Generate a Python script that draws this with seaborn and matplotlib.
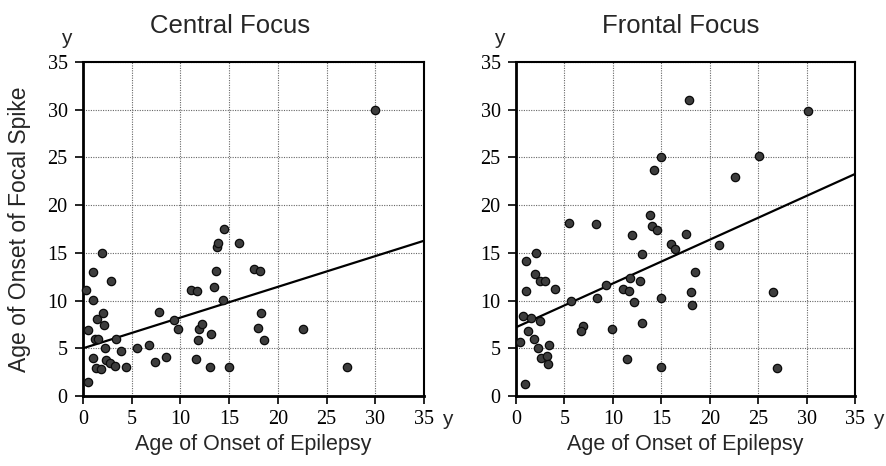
import numpy as np
import pandas as pd
import matplotlib
matplotlib.use("Agg")
import matplotlib.pyplot as plt
import seaborn as sns

# ---- data ----
central_x = [0.5, 1.3, 1.8, 1.0, 2.4, 2.8, 3.3, 4.4, 2.25, 3.9, 5.5, 6.8, 1.2, 1.5,
             3.4, 0.5, 2.2, 1.4, 2.0, 1.0, 0.3, 2.9, 1.0, 1.95, 7.4, 8.5, 7.8, 9.3,
             9.8, 11.6, 11.8, 11.9, 12.2, 13.1, 13.0, 15.0, 14.35, 11.1, 11.75, 13.4,
             13.7, 13.8, 13.9, 14.5, 16.0, 17.6, 18.2, 18.3, 18.0, 18.6, 22.6, 27.1, 30.0]
central_y = [1.5, 2.9, 2.8, 4.0, 3.8, 3.5, 3.1, 3.0, 5.0, 4.7, 5.0, 5.3, 6.0, 6.0,
             6.0, 6.9, 7.4, 8.1, 8.7, 10.1, 11.1, 12.0, 13.0, 15.0, 3.6, 4.1, 8.8, 8.0,
             7.0, 3.9, 5.9, 7.0, 7.5, 6.5, 3.0, 3.0, 10.1, 11.1, 11.0, 11.4,
             13.1, 15.6, 16.0, 17.5, 16.0, 13.3, 13.1, 8.7, 7.1, 5.9, 7.0, 3.0, 30.0]

frontal_x = [0.9, 0.45, 1.2, 1.9, 2.3, 3.4, 2.6, 3.2, 3.3, 0.7, 1.55, 2.5, 1.0, 1.0,
             2.1, 2.0, 2.5, 3.0, 4.0, 5.7, 5.5, 6.9, 6.7, 8.4, 8.3, 9.3, 9.9, 11.0,
             11.7, 11.8, 12.0, 12.2, 12.8, 11.5, 13.0, 13.0, 13.8, 14.0, 14.6, 14.3,
             15.0, 15.0, 15.0, 16.0, 16.4, 17.6, 17.9, 18.5, 18.1, 18.2, 21.0, 22.6,
             25.1, 26.5, 27.0, 30.1]
frontal_y = [1.3, 5.7, 6.8, 6.0, 5.0, 5.3, 4.0, 4.2, 3.4, 8.4, 8.2, 7.9, 11.0, 14.1,
             15.0, 12.8, 12.1, 12.0, 11.2, 10.0, 18.1, 7.3, 6.8, 10.3, 18.0, 11.6, 7.0, 11.2,
             11.0, 12.4, 16.9, 9.8, 12.0, 3.9, 7.6, 14.9, 19.0, 17.8, 17.4, 23.7,
             25.0, 10.3, 3.0, 15.9, 15.4, 17.0, 31.0, 13.0, 10.9, 9.5, 15.8, 22.9,
             25.1, 10.9, 2.9, 29.9]

# fitted trend lines: (intercept, slope)
central_fit = (5.0, 0.322)
frontal_fit = (7.2, 0.459)

panel_titles = ["Central Focus", "Frontal Focus"]
tick_values = [0, 5, 10, 15, 20, 25, 30, 35]
x_label = "Age of Onset of Epilepsy"
y_label = "Age of Onset of Focal Spike"
unit_label = "y"

# ---- style ----
sns.set_style("white")
plt.rcParams["font.family"] = ["Liberation Sans", "DejaVu Sans"]

fig = plt.figure(figsize=(8.87, 4.66), dpi=100)
axL = fig.add_axes([0.0936, 0.1502, 0.3844, 0.7167])
axR = fig.add_axes([0.5817, 0.1502, 0.3822, 0.7167])

panels = [(axL, central_x, central_y, central_fit, panel_titles[0], 0.431),
          (axR, frontal_x, frontal_y, frontal_fit, panel_titles[1], 0.487)]

for i, (ax, xs, ys, fit, title, title_x) in enumerate(panels):
    df = pd.DataFrame({"onset_epilepsy": xs, "onset_spike": ys})
    lo, hi = tick_values[0], tick_values[-1]
    fit_df = pd.DataFrame({"onset_epilepsy": [lo, hi],
                           "onset_spike": [fit[0] + fit[1] * lo, fit[0] + fit[1] * hi]})
    sns.lineplot(data=fit_df, x="onset_epilepsy", y="onset_spike", ax=ax,
                 color="black", lw=1.6, zorder=3)
    sns.scatterplot(data=df, x="onset_epilepsy", y="onset_spike", ax=ax,
                    s=36, color="#3d3d3d", edgecolor="#0a0a0a", linewidth=0.9,
                    zorder=4, clip_on=False, legend=False)
    ax.set_xlim(lo, hi)
    ax.set_ylim(lo, hi)
    ax.set_xticks(tick_values)
    ax.set_yticks(tick_values)
    ax.set_xticklabels([str(t) for t in tick_values], family="Liberation Serif", fontsize=14.5)
    ax.set_yticklabels([str(t) for t in tick_values], family="Liberation Serif", fontsize=14.5)
    ax.tick_params(axis="both", direction="out", length=6, width=1.2,
                   bottom=True, left=True, colors="black", pad=4)
    ax.tick_params(axis="y", pad=5)
    ax.grid(True, color="#666666", linestyle=(0, (1, 1.2)), linewidth=0.8)
    ax.set_axisbelow(True)
    for side in ["left", "bottom"]:
        ax.spines[side].set_linewidth(2.0)
        ax.spines[side].set_color("black")
    for side in ["top", "right"]:
        ax.spines[side].set_linewidth(1.5)
        ax.spines[side].set_color("black")
    ax.set_title(title, fontsize=18.5, pad=21, x=title_x)
    ax.set_xlabel(x_label, fontsize=15.5, labelpad=4)
    if i == 0:
        ax.set_ylabel(y_label, fontsize=16.5, labelpad=12)
    else:
        ax.set_ylabel("")
    ax.text(-0.05, 1.07, unit_label, transform=ax.transAxes, ha="center",
            va="center", fontsize=15)
    ax.text(1.068, -0.069, unit_label, transform=ax.transAxes, ha="center",
            va="center", fontsize=15)

fig.savefig("out.png", dpi=100)
